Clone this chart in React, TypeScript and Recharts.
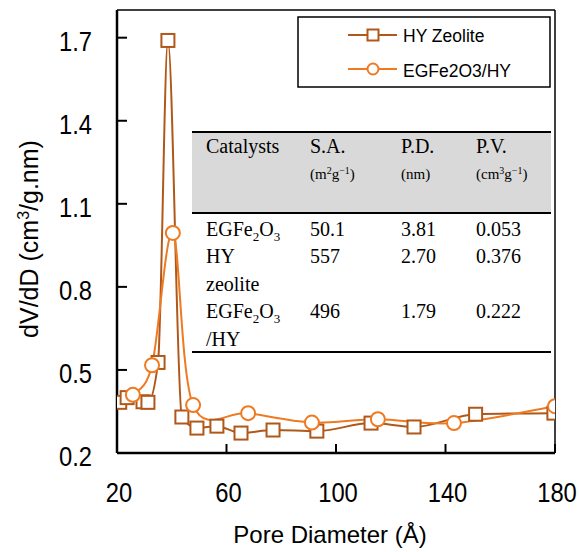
import React from "react";
import { LineChart, Line, XAxis, YAxis, ReferenceLine } from "recharts";

// ---- Data ----
const hyX = [21, 23.7, 29.5, 31.3, 35, 38.6, 43.7, 49.2, 56.5, 65.3, 77, 93, 112.8, 128.5, 151, 179.6];
const hyY = [0.383, 0.4, 0.385, 0.383, 0.527, 1.69, 0.33, 0.29, 0.297, 0.272, 0.283, 0.279, 0.308, 0.294, 0.34, 0.344];
const egX = [25.8, 32.8, 40.4, 47.8, 67.9, 91.2, 115.3, 143.1, 180];
const egY = [0.41, 0.517, 0.995, 0.373, 0.344, 0.31, 0.322, 0.308, 0.369];

const xTicks = [20, 60, 100, 140, 180];
const yTicks = [0.2, 0.5, 0.8, 1.1, 1.4, 1.7];
const seriesNames = ["HY Zeolite", "EGFe2O3/HY"];

const tableHeaders = ["Catalysts", "S.A.", "P.D.", "P.V."];
const catalystLines = [["EGFe2O3"], ["HY", "zeolite"], ["EGFe2O3", "/HY"]];
const surfaceArea = ["50.1", "557", "496"];
const poreDiameter = ["3.81", "2.70", "1.79"];
const poreVolume = ["0.053", "0.376", "0.222"];

const hyData = hyX.map((x, i) => ({ x, y: hyY[i] }));
const egData = egX.map((x, i) => ({ x, y: egY[i] }));

const HY_COLOR = "#B0581A";
const EG_COLOR = "#EE7A22";
const SANS = "'Liberation Sans', Arial, sans-serif";
const SERIF = "'Liberation Serif', 'Times New Roman', serif";

// Excel-like smoothing (Catmull-Rom style bezier)
function smoothCurve(context: any) {
  let pts: number[][] = [];
  return {
    areaStart() {},
    areaEnd() {},
    lineStart() {
      pts = [];
    },
    point(x: number, y: number) {
      pts.push([+x, +y]);
    },
    lineEnd() {
      if (!pts.length) return;
      context.moveTo(pts[0][0], pts[0][1]);
      for (let i = 0; i < pts.length - 1; i++) {
        const p0 = pts[i - 1] || pts[i];
        const p1 = pts[i];
        const p2 = pts[i + 1];
        const p3 = pts[i + 2] || p2;
        context.bezierCurveTo(
          p1[0] + (p2[0] - p0[0]) / 6,
          p1[1] + (p2[1] - p0[1]) / 6,
          p2[0] - (p3[0] - p1[0]) / 6,
          p2[1] - (p3[1] - p1[1]) / 6,
          p2[0],
          p2[1]
        );
      }
    },
  };
}

const SquareDot = (props: any) => {
  const { cx, cy, index } = props;
  if (cx == null || cy == null) return <g key={`s${index}`} />;
  return (
    <rect key={`s${index}`} x={cx - 6.5} y={cy - 6.5} width={13} height={13} fill="#fff" stroke={HY_COLOR} strokeWidth={2} />
  );
};

const CircleDot = (props: any) => {
  const { cx, cy, index } = props;
  if (cx == null || cy == null) return <g key={`c${index}`} />;
  return <circle key={`c${index}`} cx={cx} cy={cy} r={7} fill="#fff" stroke={EG_COLOR} strokeWidth={2} />;
};

const Y_MARGIN = 25;
const X_MARGIN = 30;

const YTick = (props: any) => {
  const { x, y, payload } = props;
  const ax = x + Y_MARGIN;
  return (
    <g>
      {payload.value !== 0.2 && <line x1={ax} y1={y} x2={ax + 10} y2={y} stroke="#000" strokeWidth={2} />}
      <g transform={`translate(${x},${y + 13}) scale(0.88,1)`}>
        <text x={0} y={0} textAnchor="end" fontFamily={SANS} fontSize={27} fill="#000">
          {payload.value.toFixed(1)}
        </text>
      </g>
    </g>
  );
};

const XTick = (props: any) => {
  const { x, y, payload } = props;
  const ay = y - X_MARGIN;
  return (
    <g>
      {payload.value !== 20 && <line x1={x} y1={ay} x2={x} y2={ay - 9} stroke="#000" strokeWidth={2} />}
      <g transform={`translate(${x + 2},${y + 19}) scale(0.88,1)`}>
        <text x={0} y={0} textAnchor="middle" fontFamily={SANS} fontSize={27} fill="#000">
          {payload.value}
        </text>
      </g>
    </g>
  );
};

const Chem = ({ text, x, y }: { text: string; x: number; y: number }) => {
  // digits after letters rendered as subscripts
  const parts: React.ReactNode[] = [];
  let sub = false;
  for (let i = 0; i < text.length; i++) {
    const ch = text[i];
    const isDigit = /[0-9]/.test(ch);
    if (isDigit && !sub) {
      parts.push(
        <tspan key={i} fontSize={13} dy={5}>
          {ch}
        </tspan>
      );
      sub = true;
    } else if (!isDigit && sub) {
      parts.push(
        <tspan key={i} dy={-5}>
          {ch}
        </tspan>
      );
      sub = false;
    } else if (isDigit) {
      parts.push(
        <tspan key={i} fontSize={13}>
          {ch}
        </tspan>
      );
    } else {
      parts.push(<tspan key={i}>{ch}</tspan>);
    }
  }
  return (
    <text x={x} y={y} fontFamily={SERIF} fontSize={20} fill="#000">
      {parts}
    </text>
  );
};

const Overlay = () => {
  const colX = [206, 310, 401, 476];
  const rowBase = [236, 263, 318];
  const lineGap = 28;
  return (
    <svg width={579} height={552} style={{ position: "absolute", left: 0, top: 0, pointerEvents: "none" }}>
      {/* Legend */}
      <rect x={298} y={17} width={252} height={70} fill="#fff" stroke="#000" strokeWidth={1.5} />
      <line x1={348} y1={35} x2={397} y2={35} stroke={HY_COLOR} strokeWidth={2} />
      <rect x={367.5} y={29.5} width={11} height={11} fill="#fff" stroke={HY_COLOR} strokeWidth={2} />
      <text x={403} y={42} fontFamily={SANS} fontSize={17.5} fill="#000">
        {seriesNames[0]}
      </text>
      <line x1={348} y1={69} x2={397} y2={69} stroke={EG_COLOR} strokeWidth={2} />
      <circle cx={373} cy={69} r={5.5} fill="#fff" stroke={EG_COLOR} strokeWidth={2} />
      <text x={403} y={77} fontFamily={SANS} fontSize={17.5} fill="#000">
        {seriesNames[1]}
      </text>

      {/* Table */}
      <rect x={192} y={132} width={359} height={81} fill="#D9D9D9" />
      <line x1={192} y1={132} x2={551} y2={132} stroke="#000" strokeWidth={2} />
      <line x1={192} y1={213} x2={551} y2={213} stroke="#000" strokeWidth={2} />
      <line x1={192} y1={352} x2={551} y2={352} stroke="#000" strokeWidth={2} />
      {tableHeaders.map((h, i) => (
        <text key={h} x={colX[i]} y={153} fontFamily={SERIF} fontSize={20} fill="#000">
          {h}
        </text>
      ))}
      <text x={colX[1]} y={179} fontFamily={SERIF} fontSize={15} fill="#000">
        (m<tspan fontSize={10} dy={-5}>2</tspan>
        <tspan dy={5}>g</tspan>
        <tspan fontSize={10} dy={-5}>−1</tspan>
        <tspan dy={5}>)</tspan>
      </text>
      <text x={colX[2]} y={179} fontFamily={SERIF} fontSize={15} fill="#000">
        (nm)
      </text>
      <text x={colX[3]} y={179} fontFamily={SERIF} fontSize={15} fill="#000">
        (cm<tspan fontSize={10} dy={-5}>3</tspan>
        <tspan dy={5}>g</tspan>
        <tspan fontSize={10} dy={-5}>−1</tspan>
        <tspan dy={5}>)</tspan>
      </text>
      {catalystLines.map((lines, r) => (
        <g key={`r${r}`}>
          {lines.map((ln, k) => (
            <Chem key={k} text={ln} x={colX[0]} y={rowBase[r] + k * lineGap} />
          ))}
          <text x={colX[1]} y={rowBase[r]} fontFamily={SERIF} fontSize={20} fill="#000">
            {surfaceArea[r]}
          </text>
          <text x={colX[2]} y={rowBase[r]} fontFamily={SERIF} fontSize={20} fill="#000">
            {poreDiameter[r]}
          </text>
          <text x={colX[3]} y={rowBase[r]} fontFamily={SERIF} fontSize={20} fill="#000">
            {poreVolume[r]}
          </text>
        </g>
      ))}

      {/* Axis titles */}
      <text x={330} y={543} textAnchor="middle" fontFamily={SANS} fontSize={24} fill="#000">
        Pore Diameter (Å)
      </text>
      <text
        x={38}
        y={239}
        textAnchor="middle"
        fontFamily={SANS}
        fontSize={25}
        fill="#000"
        transform="rotate(-90, 38, 239)"
      >
        dV/dD (cm<tspan fontSize={16} dy={-9}>3</tspan>
        <tspan dy={9}>/g.nm)</tspan>
      </text>
    </svg>
  );
};

export default function App() {
  return (
    <div style={{ position: "absolute", left: 0, top: 0, width: 579, height: 552, background: "#fff" }}>
      <LineChart width={579} height={552} margin={{ top: 10, right: 24, left: 57, bottom: 49 }}>
        <XAxis
          type="number"
          dataKey="x"
          domain={[20, 180]}
          ticks={xTicks}
          height={50}
          tickSize={0}
          tickMargin={X_MARGIN}
          tickLine={false}
          tick={<XTick />}
          axisLine={{ stroke: "#000", strokeWidth: 2.5 }}
          allowDataOverflow
        />
        <YAxis
          type="number"
          dataKey="y"
          domain={[0.2, 1.8]}
          ticks={yTicks}
          width={60}
          tickSize={0}
          tickMargin={Y_MARGIN}
          tickLine={false}
          tick={<YTick />}
          axisLine={{ stroke: "#000", strokeWidth: 2.5 }}
          allowDataOverflow
        />
        <ReferenceLine y={1.8} stroke="#000" strokeWidth={1.5} ifOverflow="extendDomain" />
        <ReferenceLine x={180} stroke="#000" strokeWidth={1.5} ifOverflow="extendDomain" />
        <Line
          data={hyData}
          dataKey="y"
          name={seriesNames[0]}
          type="monotone"
          stroke={HY_COLOR}
          strokeWidth={2}
          dot={SquareDot}
          activeDot={false}
          isAnimationActive={false}
        />
        <Line
          data={egData}
          dataKey="y"
          name={seriesNames[1]}
          type={smoothCurve as any}
          stroke={EG_COLOR}
          strokeWidth={2}
          dot={CircleDot}
          activeDot={false}
          isAnimationActive={false}
        />
      </LineChart>
      <Overlay />
    </div>
  );
}
